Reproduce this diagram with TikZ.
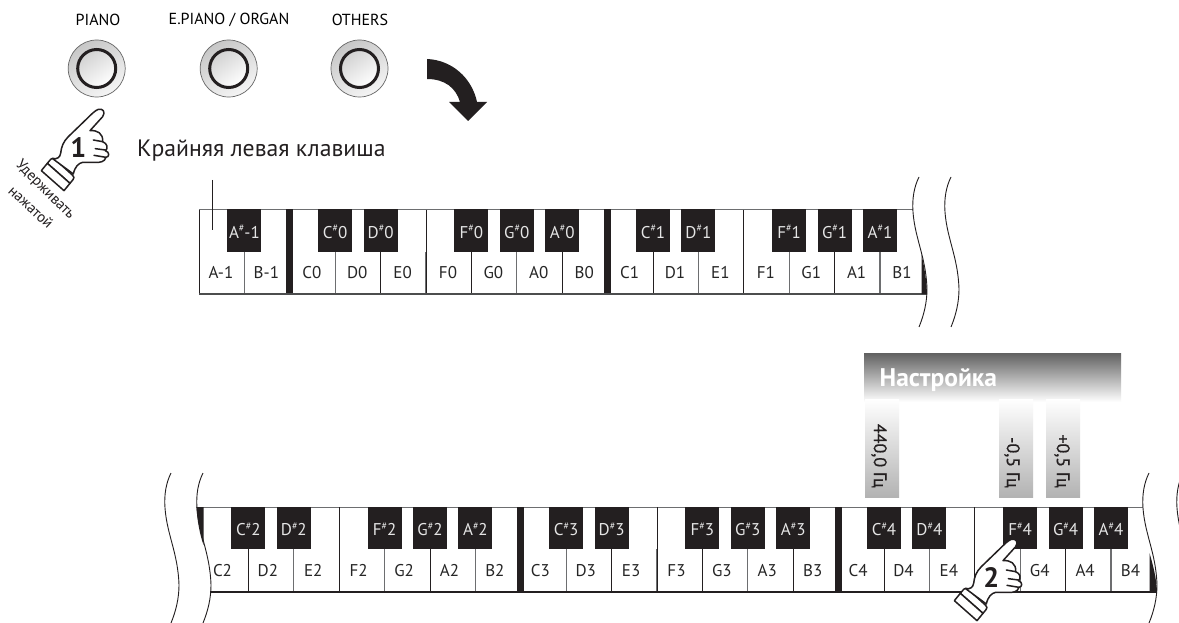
\documentclass[tikz,border=0pt]{standalone}
\usepackage{fontspec}
\setmainfont{PT Sans}
\usetikzlibrary{calc}
\definecolor{keyblack}{HTML}{231F20}
\definecolor{keygray}{HTML}{6D6E70}
\definecolor{barlabel}{HTML}{231F20}
\newcommand{\shp}{\raisebox{0.36em}{\fontsize{10}{10}\selectfont\#}}
\tikzset{
  x=1pt,y=-1pt,
  whitekeytext/.style={font=\fontsize{17}{18}\selectfont,text=black!85,inner sep=0pt,anchor=center,text height=12pt,text depth=0pt},
  blackkeytext/.style={font=\fontsize{17}{18}\selectfont,text=white!90!black,inner sep=0pt,anchor=center,text height=12pt,text depth=0pt},
  blackkey/.style={fill=keyblack,draw=none},
  thinline/.style={draw=keyblack,line width=0.9pt},
  grayline/.style={draw=keygray,line width=1.1pt},
  waveline/.style={draw=keyblack,line width=0.9pt},
  toplabel/.style={font=\fontsize{16}{17}\selectfont,text=black,inner sep=0pt},
  barvalue/.style={font=\fontsize{18}{19}\selectfont\addfontfeature{FakeBold=0.6},text=barlabel,inner sep=0pt,rotate=-90,anchor=east},
  handline/.style={draw=keyblack,line width=1.5pt,line join=round,line cap=round},
  valuebar/.style={top color=white,bottom color=black!30,draw=none},
}
% wave #1 = x at top, #2 = y at top
\newcommand{\wavepath}[2]{(#1,#2) .. controls (#1-5,#2+10) and (#1-7,#2+22) .. (#1-6,#2+35) .. controls (#1-4,#2+62) and (#1+7,#2+80) .. (#1+8,#2+112) .. controls (#1+8,#2+125) and (#1+5,#2+138) .. (#1,#2+150)}
\newcommand{\handshape}[3]{%
\begin{scope}[shift={(#1,#2)},x=0.3333pt,y=-0.3333pt]
  % cuff
  \draw[handline,fill=white] (112,190) -- (122,178) .. controls (126,174) and (130,174) .. (134,177) -- (188,226) .. controls (193,230) and (193,235) .. (189,239) -- (180,250) -- cycle;
  \draw[handline,fill=white] (112,190) -- (180,250) -- (162,272) -- (94,212) -- cycle;
  % hand
  \draw[handline,fill=white] (128,176) .. controls (142,178) and (150,172) .. (152,160) .. controls (154,140) and (160,125) .. (175,110) -- (235,52) .. controls (245,42) and (255,32) .. (265,28) .. controls (278,24) and (288,36) .. (278,50) -- (240,92) .. controls (262,90) and (280,100) .. (278,125) .. controls (292,130) and (296,146) .. (286,152) .. controls (300,156) and (298,172) .. (288,172) .. controls (284,186) and (270,188) .. (255,187) -- (218,187) .. controls (205,190) and (195,200) .. (190,222) -- cycle;
  \draw[handline] (250,120) -- (278,125);
  \draw[handline] (256,146) -- (286,150);
  \draw[handline] (252,166) -- (288,172);
  \node[font=\fontsize{28}{29}\selectfont\bfseries,text=keyblack,inner sep=0pt] at (205,143) {#3};
\end{scope}}
\newcommand{\panelbutton}[2]{%
  \node[circle,minimum size=57pt,inner sep=0pt,draw=black!60,line width=0.7pt,left color=black!22,right color=black!4,shading angle=30] (#2) at (#1,68.5) {};
  \node[circle,minimum size=38pt,inner sep=0pt,draw=keyblack,line width=3pt,left color=black!18,right color=white,shading angle=35] at (#1,68.5) {};}
\begin{document}
\begin{tikzpicture}
\useasboundingbox (0,0) rectangle (1179,623);
\fill[white] (0,0) rectangle (1179,623);
% top labels and buttons
\node[toplabel] (lpiano) at (98,20) {PIANO};
\node[toplabel] (lepiano) at (229,20) {E.PIANO / ORGAN};
\node[toplabel] (lothers) at (360,20) {OTHERS};
\panelbutton{96.7}{bpiano}
\panelbutton{228.7}{bepiano}
\panelbutton{359.5}{bothers}
% big arrow
\fill[keyblack] (427,59) -- (427,79) .. controls (445,79) and (456,88) .. (460,102) -- (449,102) -- (468,121) -- (487,102) -- (477,102) .. controls (472,78) and (452,60) .. (427,59) -- cycle;
% instruction text
\node[font=\fontsize{23.7}{25}\selectfont,text=keyblack,inner sep=0pt,anchor=west] (leftmost) at (137,151) {Крайняя левая клавиша};
\handshape{10}{100}{1}
\node[font=\fontsize{15}{16}\selectfont,text=keyblack,inner sep=0pt,rotate=-45] (hold1) at (45,190) {Удерживать};
\node[font=\fontsize{15}{16}\selectfont,text=keyblack,inner sep=0pt,rotate=-43] (hold2) at (31,207) {нажатой};
% ===== upper keyboard
\fill[white] (199,210) rectangle (925,294);
\draw[keygray,line width=1pt] (199,210) -- (913,210);
\draw[keyblack,line width=1pt] (199,210) -- (199,294);
\foreach \k in {1,3,...,15}{
  \pgfmathsetmacro\lx{199+45.4*\k}
  \draw[grayline] (\lx,252) -- (\lx,294);
}
\foreach \k in {4,6,...,14}{
  \pgfmathsetmacro\lx{199+45.4*\k}
  \draw[thinline] (\lx,252) -- (\lx,294);
}
\foreach \k in {5,12}{
  \pgfmathsetmacro\lx{199+45.4*\k}
  \draw[thinline] (\lx,210) -- (\lx,294);
}
\foreach \k in {2,9}{
  \pgfmathsetmacro\lx{199+45.4*\k}
  \fill[keyblack] (\lx-3.5,209.5) rectangle (\lx+3.5,294);
}
\draw[keygray!70!black,line width=1.4pt] (199,294) -- (927,294);
\foreach \k/\nm in {0/A-1,1/B-1,2/C0,3/D0,4/E0,5/F0,6/G0,7/A0,8/B0,9/C1,10/D1,11/E1,12/F1,13/G1,14/A1,15/B1}{
  \node[whitekeytext] at (221+45.4*\k,272.5) {\nm};
}
\foreach \k/\nm in {1/A\shp-1,3/C\shp0,4/D\shp0,6/F\shp0,7/G\shp0,8/A\shp0,10/C\shp1,11/D\shp1,13/F\shp1,14/G\shp1,15/A\shp1}{
  \fill[blackkey] (199+45.4*\k-17,209.5) rectangle (199+45.4*\k+17,252);
  \node[blackkeytext] at (199+45.4*\k,232) {\nm};
}
\fill[keyblack] (921.5,254) .. controls (924.5,268) and (926.5,280) .. (927,294) -- (921.5,294) -- cycle;
\draw[waveline] \wavepath{919}{177};
\draw[waveline] \wavepath{951}{177};
% pointer
\draw[keyblack,line width=1.1pt] (212.3,180) -- (212.3,230);
% ===== bars
\shade[top color=black!62,middle color=black!42,bottom color=white] (864,353) rectangle (1121,402);
\node[font=\fontsize{25.5}{27}\selectfont\bfseries,text=white,inner sep=0pt,anchor=west] (tuning) at (879.5,380) {Настройка};
\shade[valuebar] (865,399) rectangle (899,497);
\shade[valuebar] (999,399) rectangle (1033,497);
\shade[valuebar] (1046,399) rectangle (1080,497);
\node[barvalue] (v1) at (879,488) {440,0 Гц};
\node[barvalue] (v2) at (1012,488) {-0,5 Гц};
\node[barvalue] (v3) at (1062,488) {+0,5 Гц};
% ===== lower keyboard
\draw[keygray,line width=1pt] (196,507) -- (1143,507);
\foreach \k in {1,3,5,9,11,13,15,17,19}{
  \pgfmathsetmacro\lx{203+45.4*\k}
  \draw[thinline] (\lx,549) -- (\lx,592);
}
\foreach \k in {2,4,6,8,10,12,16,18,20}{
  \pgfmathsetmacro\lx{203+45.4*\k}
  \draw[grayline] (\lx,549) -- (\lx,592);
}
\foreach \k in {3,10,17}{
  \pgfmathsetmacro\lx{203+45.4*\k}
  \draw[thinline] (\lx,507) -- (\lx,592);
}
\foreach \k in {7,14}{
  \pgfmathsetmacro\lx{203+45.4*\k}
  \fill[keyblack] (\lx-3.5,506.5) rectangle (\lx+3.5,592);
}
\draw[keyblack,line width=1.5pt] (210,592) -- (1157,592);
\foreach \k/\nm in {0/C2,1/D2,2/E2,3/F2,4/G2,5/A2,6/B2,7/C3,8/D3,9/E3,10/F3,11/G3,12/A3,13/B3,14/C4,15/D4,16/E4,18/G4,19/A4,20/B4}{
  \node[whitekeytext] at (222.5+45.4*\k,570.5) {\nm};
}
\foreach \k/\nm in {1/C\shp2,2/D\shp2,4/F\shp2,5/G\shp2,6/A\shp2,8/C\shp3,9/D\shp3,11/F\shp3,12/G\shp3,13/A\shp3,15/C\shp4,16/D\shp4,18/F\shp4,19/G\shp4,20/A\shp4}{
  \fill[blackkey] (203+45.4*\k-17,506.5) rectangle (203+45.4*\k+17,549);
  \node[blackkeytext] at (203+45.4*\k,529.5) {\nm};
}
% wedges
\fill[keyblack] (196.5,507) -- (203.5,507) -- (203.5,545) .. controls (200,535) and (197,520) .. (196.5,507) -- cycle;
\fill[keyblack] (1149.5,553) .. controls (1153,565) and (1156.5,578) .. (1157,592) -- (1149.5,592) -- cycle;
\draw[waveline] \wavepath{203}{473};
\draw[waveline] \wavepath{171}{473};
\draw[waveline] \wavepath{1149}{473};
\draw[waveline] \wavepath{1183}{473};
\handshape{923}{530}{2}
\end{tikzpicture}
\end{document}
